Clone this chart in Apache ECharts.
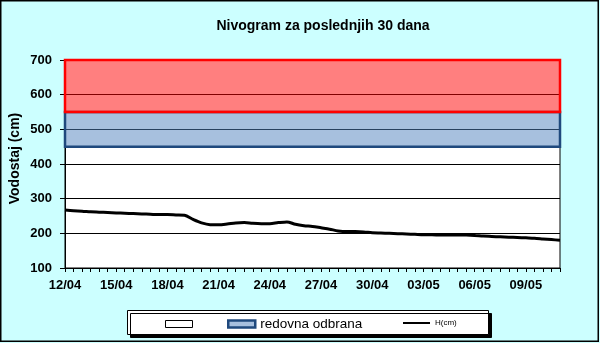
<!DOCTYPE html>
<html>
<head>
<meta charset="utf-8">
<script src="https://cdn.jsdelivr.net/npm/echarts@6/dist/echarts.min.js"></script>
<style>
  html, body { margin: 0; padding: 0; background: #CCFFFF; }
  #chart { width: 600px; height: 343px; }
</style>
</head>
<body>
<div id="chart"></div>
<script>
// Water level (cm), twice a day (00h and 12h), from 12/04 to 11/05
const levelH = [
  267, 265, 264, 262, 261, 260, 259, 258, 257, 256,
  255, 254, 254, 253, 252, 240, 230, 225, 225, 227,
  230, 231, 229, 228, 228, 231, 233, 226, 222, 220,
  216, 212, 207, 205, 205, 204, 202, 201, 200, 199,
  198, 197, 196, 196, 195, 195, 195, 195, 194, 192,
  191, 190, 189, 188, 187, 186, 184, 182, 180
];

// Defence level bands (cm)
const regularDefence = [450, 550];
const emergencyDefence = [550, 700];

// Y axis range
const yMin = 100, yMax = 700, yStep = 100;

// Half-day categories starting at 12/04
const startUTC = Date.UTC(2025, 3, 12);
const categories = levelH.map(function (_, i) {
  const d = new Date(startUTC + Math.floor(i / 2) * 86400000);
  const dd = String(d.getUTCDate()).padStart(2, '0');
  const mm = String(d.getUTCMonth() + 1).padStart(2, '0');
  return dd + '/' + mm + (i % 2 ? ' 12h' : ' 00h');
});

const emptyData = levelH.map(function () { return null; });
const FONT = '"Liberation Sans", Arial, sans-serif';

const chart = echarts.init(document.getElementById('chart'), null, { renderer: 'canvas' });

chart.setOption({
  backgroundColor: '#CCFFFF',
  animation: false,
  title: {
    text: 'Nivogram za poslednjih 30 dana',
    left: 318,
    top: 14,
    textAlign: 'center',
    textStyle: { fontFamily: FONT, fontSize: 14, fontWeight: 'bold', color: '#000' }
  },
  graphic: [
    {
      type: 'rect', z: 0, silent: true,
      shape: { x: 0.75, y: 0.75, width: 597.5, height: 340.5 },
      style: { fill: null, stroke: '#000', lineWidth: 1.5 }
    },
    {
      type: 'rect', z: 1, silent: true,
      shape: { x: 127.5, y: 310.5, width: 361, height: 24 },
      style: {
        fill: '#fff', stroke: '#000', lineWidth: 1,
        shadowColor: '#000', shadowOffsetX: 3, shadowOffsetY: 3, shadowBlur: 0
      }
    }
  ],
  legend: [
    {
      z: 10,
      left: 160,
      top: 312,
      itemWidth: 27,
      itemHeight: 7,
      itemGap: 34,
      selectedMode: false,
      formatter: function (name) { return name === 'osnova' ? '' : name; },
      textStyle: { fontFamily: FONT, fontSize: 13.5, color: '#000' },
      data: [
        { name: 'osnova', icon: 'rect', itemStyle: { color: '#fff', borderColor: '#000', borderWidth: 1 } },
        { name: 'redovna odbrana', icon: 'rect', itemStyle: { color: '#A7C0DE', borderColor: '#1F497D', borderWidth: 2.5 } }
      ]
    },
    {
      z: 10,
      left: 398,
      top: 314,
      itemWidth: 27,
      itemHeight: 2,
      selectedMode: false,
      textStyle: { fontFamily: FONT, fontSize: 8, color: '#000' },
      data: [
        { name: 'H(cm)', icon: 'rect', itemStyle: { color: '#000', borderWidth: 0 } }
      ]
    }
  ],
  grid: {
    left: 65, right: 40, top: 60, bottom: 75,
    outerBoundsMode: 'none',
    containLabel: false,
    show: true, backgroundColor: '#fff', borderColor: '#000', borderWidth: 1
  },
  xAxis: {
    type: 'category',
    data: categories,
    boundaryGap: false,
    axisLine: { lineStyle: { color: '#000', width: 1 } },
    axisTick: { show: true, interval: 0, length: 4, lineStyle: { color: '#000' } },
    axisLabel: {
      interval: 5,
      margin: 11,
      fontFamily: FONT, fontSize: 13, fontWeight: 'bold', color: '#000',
      formatter: function (v) { return v.slice(0, 5); }
    },
    splitLine: { show: false }
  },
  yAxis: {
    type: 'value',
    min: yMin, max: yMax, interval: yStep,
    name: 'Vodostaj (cm)',
    nameLocation: 'middle',
    nameGap: 43,
    nameMoveOverlap: false,
    nameTextStyle: {
      fontFamily: FONT, fontSize: 14, fontWeight: 'bold', color: '#000',
      padding: [0, 0, 0, 11]
    },
    axisLine: { show: true, lineStyle: { color: '#000', width: 1 } },
    axisTick: { show: true, length: 5, lineStyle: { color: '#000' } },
    axisLabel: { margin: 13, fontFamily: FONT, fontSize: 13, fontWeight: 'bold', color: '#000' },
    splitLine: { show: true, lineStyle: { color: '#000', width: 1 } }
  },
  series: [
    {
      name: 'osnova', type: 'line', data: emptyData, symbol: 'none', silent: true
    },
    {
      name: 'redovna odbrana', type: 'line', data: emptyData, symbol: 'none', silent: true, z: 1,
      markArea: {
        silent: true,
        label: { show: false },
        itemStyle: { color: 'rgba(79,129,189,0.5)', borderColor: '#1F497D', borderWidth: 2.5 },
        data: [[{ yAxis: regularDefence[0] }, { yAxis: regularDefence[1] }]]
      }
    },
    {
      name: 'vanredna odbrana', type: 'line', data: emptyData, symbol: 'none', silent: true, z: 1,
      markArea: {
        silent: true,
        label: { show: false },
        itemStyle: { color: 'rgba(255,0,0,0.5)', borderColor: '#FF0000', borderWidth: 2.5 },
        data: [[{ yAxis: emergencyDefence[0] }, { yAxis: emergencyDefence[1] }]]
      }
    },
    {
      name: 'H(cm)', type: 'line', data: levelH, z: 5,
      symbol: 'none', smooth: 0.3,
      lineStyle: { color: '#000', width: 3 },
      itemStyle: { color: '#000' }
    }
  ]
});
</script>
</body>
</html>
